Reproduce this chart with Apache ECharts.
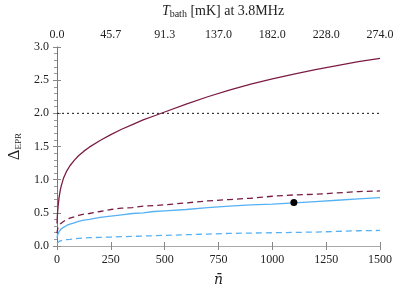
<!DOCTYPE html>
<html><head><meta charset="utf-8">
<script src="https://cdn.jsdelivr.net/npm/echarts@6/dist/echarts.min.js"></script>
<style>html,body{margin:0;padding:0;background:#fff}#c{width:395px;height:289px}</style>
</head><body><div id="c"></div>
<script>
const nValues   = [0, 2, 5, 10, 15, 20, 30, 45, 60, 80, 100, 125, 150, 200, 250, 300, 350, 400, 450, 500, 600, 700, 800, 900, 1000, 1100, 1200, 1300, 1400, 1500];
const solidRed  = [0.34, 0.47, 0.60, 0.74, 0.84, 0.91, 1.02, 1.13, 1.21, 1.29, 1.36, 1.43, 1.49, 1.59, 1.68, 1.76, 1.83, 1.90, 1.96, 2.02, 2.14, 2.25, 2.35, 2.44, 2.52, 2.59, 2.66, 2.72, 2.78, 2.83];
const dashedRed = [0.19, 0.24, 0.28, 0.31, 0.33, 0.35, 0.37, 0.40, 0.42, 0.44, 0.46, 0.48, 0.49, 0.52, 0.55, 0.57, 0.58, 0.60, 0.61, 0.62, 0.65, 0.68, 0.70, 0.72, 0.75, 0.77, 0.78, 0.80, 0.82, 0.83];
const solidBlue = [0.12, 0.16, 0.19, 0.22, 0.24, 0.26, 0.28, 0.31, 0.33, 0.35, 0.37, 0.39, 0.40, 0.43, 0.45, 0.47, 0.49, 0.50, 0.52, 0.53, 0.55, 0.58, 0.60, 0.62, 0.63, 0.65, 0.67, 0.69, 0.71, 0.73];
const dashedBlue = [0.04, 0.05, 0.06, 0.07, 0.075, 0.08, 0.09, 0.095, 0.10, 0.11, 0.115, 0.12, 0.125, 0.13, 0.135, 0.14, 0.145, 0.15, 0.155, 0.16, 0.17, 0.18, 0.19, 0.195, 0.20, 0.205, 0.21, 0.22, 0.23, 0.235];
const thresholdX = [0, 1500];
const thresholdY = [2.0, 2.0];
const markerPoint = [1100, 0.655];
const bottomTicks = [0, 250, 500, 750, 1000, 1250, 1500];
const topLabels = ['0.0', '45.7', '91.3', '137.0', '182.0', '228.0', '274.0'];

const MAROON = '#7b1c44';
const BLUE = '#56b1f4';
const FONT = 'Liberation Serif';

function pairs(xs, ys) { return xs.map((x, i) => [x, ys[i]]); }

const chart = echarts.init(document.getElementById('c'), null, {renderer: 'canvas'});
const axisLine = {show: true, lineStyle: {color: '#aaaaaa', width: 1}};
const labelStyle = {fontFamily: FONT, fontSize: 12, color: '#222'};
chart.setOption({
  animation: false,
  title: {
    text: '{i|T}{s|bath} [mK] at 3.8MHz',
    left: 218, top: -2, textAlign: 'center',
    textStyle: {
      fontFamily: FONT, fontSize: 14, fontWeight: 'normal', color: '#222',
      rich: {
        i: {fontFamily: FONT, fontStyle: 'italic', fontSize: 14, color: '#222'},
        s: {fontFamily: FONT, fontSize: 10, color: '#222', verticalAlign: 'bottom', padding: [6, 0, 0, 0]}
      }
    }
  },
  grid: {left: 57, right: 15, top: 47, bottom: 43, containLabel: false, outerBoundsMode: 'none'},
  xAxis: [
    {
      type: 'value', min: 0, max: 1500, interval: 250, position: 'bottom',
      name: 'n̄', nameLocation: 'middle', nameGap: 27,
      nameTextStyle: {fontFamily: 'DejaVu Serif', fontSize: 14, fontStyle: 'italic', color: '#222'},
      axisLine: axisLine,
      axisTick: {show: true, inside: true, length: 4, lineStyle: {color: '#888'}},
      axisLabel: Object.assign({margin: 8, formatter: v => String(v)}, labelStyle),
      splitLine: {show: false}
    },
    {
      type: 'value', min: 0, max: 1500, interval: 250, position: 'top',
      axisLine: axisLine,
      axisTick: {show: true, inside: true, length: 4, lineStyle: {color: '#888'}},
      axisLabel: Object.assign({margin: 6, formatter: v => topLabels[bottomTicks.indexOf(v)]}, labelStyle),
      splitLine: {show: false}
    }
  ],
  yAxis: [
    {
      type: 'value', min: 0, max: 3, interval: 0.5, position: 'left',
      name: '{d|Δ}{s|EPR}', nameLocation: 'middle', nameGap: 33, nameRotate: 90,
      nameTextStyle: {
        rich: {
          d: {fontFamily: FONT, fontSize: 16, color: '#222'},
          s: {fontFamily: FONT, fontSize: 9, color: '#222', verticalAlign: 'bottom', padding: [6, 0, 0, 0]}
        }
      },
      axisLine: axisLine,
      axisTick: {show: true, inside: true, length: 4, lineStyle: {color: '#888'}},
      axisLabel: Object.assign({margin: 8, formatter: v => v.toFixed(1)}, labelStyle),
      splitLine: {show: false}
    },
    {
      type: 'value', min: 0, max: 3, interval: 0.5, position: 'right',
      axisLine: {show: true, lineStyle: {color: '#777', width: 1}},
      axisTick: {show: true, inside: true, length: 4, lineStyle: {color: '#888'}},
      minorTick: {show: true, splitNumber: 5, length: 3, lineStyle: {color: '#999'}},
      axisLabel: {show: false},
      splitLine: {show: false}
    }
  ],
  series: [
    {type: 'line', data: pairs(thresholdX, thresholdY), symbol: 'none',
     lineStyle: {color: '#111', width: 1, type: [2, 3]}},
    {type: 'line', data: pairs(nValues, solidRed), symbol: 'none',
     lineStyle: {color: MAROON, width: 1.3}},
    {type: 'line', data: pairs(nValues, dashedRed), symbol: 'none',
     lineStyle: {color: MAROON, width: 1.3, type: [6, 4]}},
    {type: 'line', data: pairs(nValues, solidBlue), symbol: 'none',
     lineStyle: {color: BLUE, width: 1.3}},
    {type: 'line', data: pairs(nValues, dashedBlue), symbol: 'none',
     lineStyle: {color: BLUE, width: 1.3, type: [6, 4]}},
    {type: 'scatter', data: [markerPoint], symbolSize: 7, itemStyle: {color: '#000', opacity: 1}, z: 5}
  ]
});
</script></body></html>
